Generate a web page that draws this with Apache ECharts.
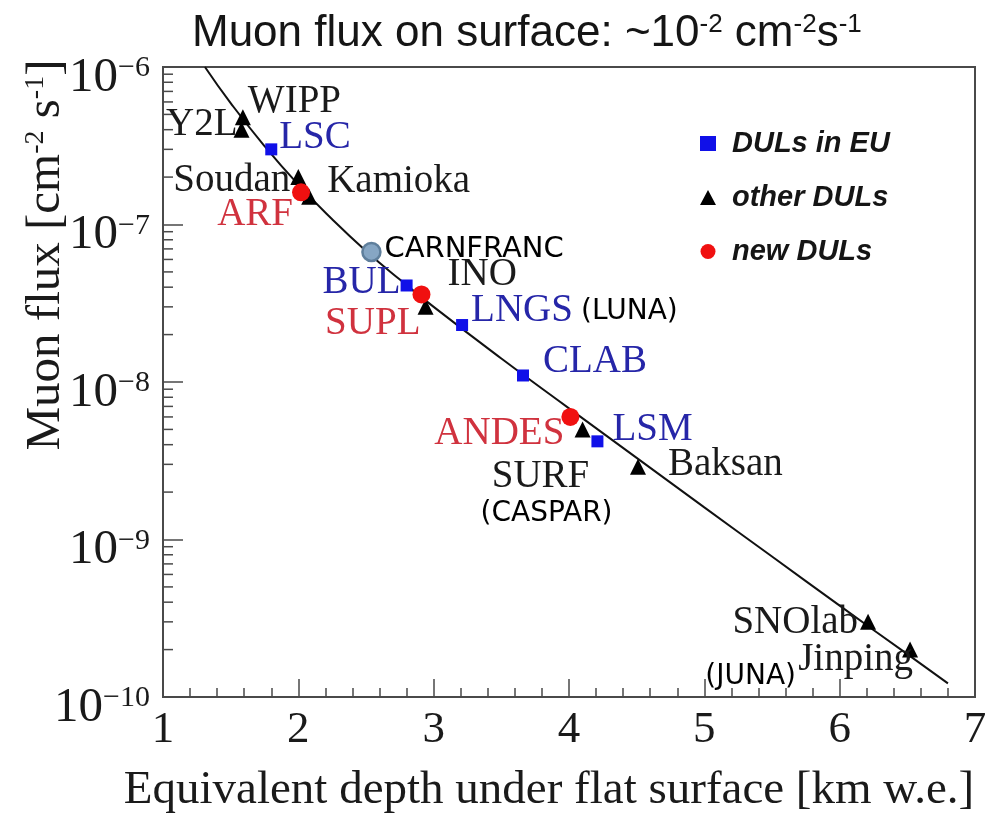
<!DOCTYPE html>
<html>
<head>
<meta charset="utf-8">
<script src="https://cdn.jsdelivr.net/npm/echarts@6/dist/echarts.min.js"></script>
<style>
  html, body { margin: 0; padding: 0; background: #ffffff; }
  #chart { width: 986px; height: 817px; }
</style>
</head>
<body>
<div id="chart"></div>
<script>
// ---------------- data ----------------
const euNames = ['LSC', 'BUL', 'LNGS', 'CLAB', 'LSM'];
const euDepth = [1.80, 2.80, 3.21, 3.66, 4.21];
const euFlux  = [3.0e-7, 4.1e-8, 2.3e-8, 1.1e-8, 4.2e-9];

const otherNames = ['WIPP', 'Y2L', 'Soudan', 'Kamioka', 'INO', 'SURF', 'Baksan', 'SNOlab', 'Jinping'];
const otherDepth = [1.59, 1.58, 2.00, 2.08, 2.94, 4.10, 4.51, 6.21, 6.52];
const otherFlux  = [4.8e-7, 4.0e-7, 2.0e-7, 1.5e-7, 3.0e-8, 5.0e-9, 2.9e-9, 3.0e-10, 2.0e-10];

const newNames = ['ARF', 'SUPL', 'ANDES'];
const newDepth = [2.02, 2.91, 4.01];
const newFlux  = [1.6e-7, 3.6e-8, 6.0e-9];

const carnNames = ['CARNFRANC'];
const carnDepth = [2.54];
const carnFlux  = [6.7e-8];

const noteTexts = ['(LUNA)', '(CASPAR)', '(JUNA)'];
const noteLabs  = ['LNGS', 'SURF', 'Jinping'];

const curveDepth = [1.31, 1.5, 1.75, 2.0, 2.25, 2.5, 2.75, 3.0, 3.5, 4.0, 4.5, 5.0, 5.5, 6.0, 6.5, 6.8];
const curveFlux  = [1.0e-6, 5.9e-7, 3.15e-7, 1.79e-7, 1.08e-7, 6.8e-8, 4.47e-8, 3.0e-8, 1.41e-8, 6.8e-9, 3.3e-9, 1.6e-9, 7.8e-10, 3.8e-10, 1.87e-10, 1.22e-10];

const legendNames = ['DULs in EU', 'other DULs', 'new DULs'];
const xTickMin = 1, xTickMax = 7;
const yMin = 1e-10, yMax = 1e-6;
const yMinorMantissas = [2, 3, 4, 5, 6, 7, 8, 9];
const yDecades = [-10, -9, -8, -7];

// ---------------- styling (label placement relative to marker) ----------------
const SERIF = 'Liberation Serif';
const SANS = 'Liberation Sans';
const NOTE_FONT = 'DejaVu Sans';
const BLACK_TXT = '#1a1a1a', BLUE_TXT = '#2626a8', RED_TXT = '#d0323e';

const labelLayout = {
  WIPP: ['left', 5, -15],
  Y2L: ['right', -4, -5],
  LSC: ['left', 8, -12],
  Soudan: ['right', -8, 4],
  Kamioka: ['left', 18, -15],
  ARF: ['right', -8, 22],
  CARNFRANC: ['left', 13, -2],
  BUL: ['right', -6, -3],
  INO: ['left', 22, -32],
  SUPL: ['right', -1, 29],
  LNGS: ['left', 9, -14],
  CLAB: ['left', 20, -14],
  ANDES: ['right', -6, 17],
  LSM: ['left', 15, -12],
  SURF: ['center', -42, 47],
  Baksan: ['left', 30, -2],
  SNOlab: ['right', -10, 1],
  Jinping: ['right', 3, 10],
  '(LUNA)': ['left', 119, -13],
  '(CASPAR)': ['center', -36, 84],
  '(JUNA)': ['right', -114, 27]
};

function buildPoints(names, xs, ys, color, font, size) {
  return names.map((n, i) => {
    const l = labelLayout[n];
    return {
      name: n,
      value: [xs[i], ys[i]],
      label: {
        show: true,
        formatter: n,
        position: 'inside',
        align: l[0],
        verticalAlign: 'middle',
        offset: [l[1], l[2]],
        color: color,
        opacity: 1,
        fontFamily: font,
        fontSize: size
      }
    };
  });
}

const allNames = euNames.concat(otherNames, newNames, carnNames);
const allDepth = euDepth.concat(otherDepth, newDepth, carnDepth);
const allFlux = euFlux.concat(otherFlux, newFlux, carnFlux);
function coordOf(name) {
  const i = allNames.indexOf(name);
  return [allDepth[i], allFlux[i]];
}

const notePoints = noteTexts.map((t, i) => {
  const l = labelLayout[t];
  return {
    name: t,
    value: coordOf(noteLabs[i]),
    label: {
      show: true, formatter: t, position: 'inside', align: l[0], verticalAlign: 'middle',
      offset: [l[1], l[2]], color: '#000', opacity: 1, fontFamily: NOTE_FONT, fontSize: 28
    }
  };
});

const minorTickData = [];
yDecades.forEach(d => yMinorMantissas.forEach(m => minorTickData.push([xTickMin, m * Math.pow(10, d)])));

const supMinus = '\u2212';

const chart = echarts.init(document.getElementById('chart'), null, { renderer: 'canvas' });

const option = {
  backgroundColor: '#ffffff',
  animation: false,
  title: {
    text: 'Muon flux on surface: ~10{s|-2} cm{s|-2}s{s|-1}',
    left: 187,
    top: 7,
    textStyle: {
      fontFamily: SANS, fontSize: 44, fontWeight: 'normal', color: '#151515',
      rich: {
        s: { fontFamily: SANS, fontSize: 26, verticalAlign: 'top', color: '#151515', lineHeight: 26 }
      }
    }
  },
  legend: {
    data: legendNames,
    orient: 'vertical',
    left: 695,
    top: 123,
    itemWidth: 16,
    itemHeight: 15,
    itemGap: 23,
    textStyle: {
      fontFamily: SANS, fontStyle: 'italic', fontWeight: 'bold', fontSize: 29, color: '#151515',
      lineHeight: 31, padding: [0, 0, 0, 11]
    }
  },
  grid: {
    left: 163, right: 11, top: 67, bottom: 120,
    outerBoundsMode: 'none',
    containLabel: false,
    show: true, borderColor: '#4a4a4a', borderWidth: 2, backgroundColor: 'transparent'
  },
  xAxis: {
    type: 'value',
    min: xTickMin, max: xTickMax, interval: 1,
    name: 'Equivalent depth under flat surface [km w.e.]',
    nameLocation: 'middle',
    nameGap: 70,
    nameMoveOverlap: false,
    nameTextStyle: { fontFamily: SERIF, fontSize: 47, color: '#1a1a1a', padding: [0, 40, 0, 0] },
    axisLine: { lineStyle: { color: '#4a4a4a', width: 2 } },
    axisTick: { inside: true, length: 18, lineStyle: { color: '#4a4a4a', width: 1.5 } },
    minorTick: { show: true, splitNumber: 5, length: 9, lineStyle: { color: '#4a4a4a', width: 1.5 } },
    axisLabel: { fontFamily: SERIF, fontSize: 45, color: '#1a1a1a', margin: 11 },
    splitLine: { show: false }
  },
  yAxis: {
    type: 'log',
    logBase: 10,
    min: yMin, max: yMax,
    name: 'Muon flux [cm{s|-2} s{s|-1}]',
    nameLocation: 'middle',
    nameRotate: 90,
    nameGap: 92,
    nameMoveOverlap: false,
    nameTextStyle: {
      fontFamily: SERIF, fontSize: 49, color: '#1a1a1a', padding: [0, 0, 0, 254],
      rich: { s: { fontFamily: SERIF, fontSize: 28, verticalAlign: 'top', lineHeight: 28, color: '#1a1a1a' } }
    },
    axisLine: { lineStyle: { color: '#4a4a4a', width: 2 } },
    axisTick: { inside: true, length: 20, lineStyle: { color: '#4a4a4a', width: 1.5 } },
    minorTick: { show: false },
    axisLabel: {
      margin: 13,
      padding: [22, 0, 0, 0],
      formatter: v => '{n|10}{s|' + supMinus + Math.abs(Math.round(Math.log10(v))) + '}',
      rich: {
        n: { fontFamily: SERIF, fontSize: 49, color: '#1a1a1a', lineHeight: 49 },
        s: { fontFamily: SERIF, fontSize: 30, color: '#1a1a1a', verticalAlign: 'top', lineHeight: 30 }
      }
    },
    splitLine: { show: false }
  },
  series: [
    {
      type: 'custom',
      name: 'yMinorTicks',
      silent: true,
      clip: false,
      z: 3,
      data: minorTickData,
      renderItem: (params, api) => {
        const p = api.coord([api.value(0), api.value(1)]);
        return {
          type: 'line',
          shape: { x1: p[0], y1: p[1], x2: p[0] + 10, y2: p[1] },
          style: { stroke: '#4a4a4a', lineWidth: 1.5 }
        };
      }
    },
    {
      type: 'line',
      name: 'curve',
      data: curveDepth.map((d, i) => [d, curveFlux[i]]),
      smooth: true,
      showSymbol: false,
      symbol: 'none',
      lineStyle: { color: '#111', width: 2 },
      z: 2,
      silent: true
    },
    {
      type: 'scatter',
      name: 'DULs in EU',
      symbol: 'rect',
      symbolSize: 12,
      itemStyle: { color: '#1010e8', opacity: 1 },
      z: 5,
      data: buildPoints(euNames, euDepth, euFlux, BLUE_TXT, SERIF, 39)
    },
    {
      type: 'scatter',
      name: 'other DULs',
      symbol: 'triangle',
      symbolSize: 16,
      itemStyle: { color: '#000', opacity: 1 },
      z: 5,
      data: buildPoints(otherNames, otherDepth, otherFlux, BLACK_TXT, SERIF, 39)
    },
    {
      type: 'scatter',
      name: 'new DULs',
      symbol: 'circle',
      symbolSize: 18,
      itemStyle: { color: '#f01010', opacity: 1 },
      z: 6,
      data: buildPoints(newNames, newDepth, newFlux, RED_TXT, SERIF, 39)
    },
    {
      type: 'scatter',
      name: 'CARNFRANC',
      symbol: 'circle',
      symbolSize: 18,
      itemStyle: { color: '#86a6c4', borderColor: '#5f7f9c', borderWidth: 2.5, opacity: 1 },
      z: 6,
      data: buildPoints(carnNames, carnDepth, carnFlux, '#000', NOTE_FONT, 29)
    },
    {
      type: 'scatter',
      name: 'notes',
      symbolSize: 0,
      itemStyle: { color: 'transparent' },
      z: 7,
      data: notePoints
    }
  ]
};

chart.setOption(option);
</script>
</body>
</html>
